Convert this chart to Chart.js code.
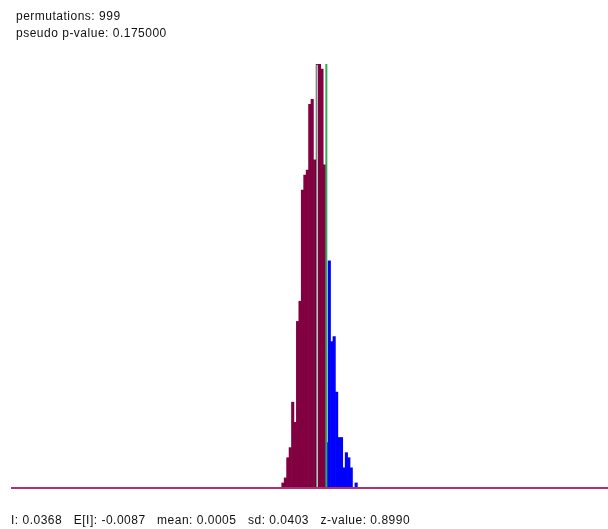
<!DOCTYPE html>
<html>
<head>
<meta charset="utf-8">
<script src="https://cdn.jsdelivr.net/npm/chart.js@4/dist/chart.umd.min.js"></script>
<style>
  html, body { margin: 0; padding: 0; background: #fff; }
  #wrap { position: relative; width: 608px; height: 529px; }
  canvas { position: absolute; left: 0; top: 0; }
  .txt {
    position: absolute;
    font: 12px "Liberation Sans", Arial, sans-serif;
    line-height: 17px;
    color: #111;
    white-space: pre;
    letter-spacing: 0.5px;
  }
</style>
</head>
<body>
<div id="wrap">
  <canvas id="hist" width="608" height="529"></canvas>
  <div class="txt" style="left:16px; top:8px;">permutations: 999<br>pseudo p-value: 0.175000</div>
  <div class="txt" style="left:11px; top:512px;">I: 0.0368   E[I]: -0.0087   mean: 0.0005   sd: 0.0403   z-value: 0.8990</div>
</div>
<script>
// bin centres (Moran's I of each permutation bin)
const binCenters = [-0.1327, -0.1232, -0.1137, -0.1041, -0.0946, -0.0851, -0.0755, -0.0660,
  -0.0565, -0.0470, -0.0374, -0.0279, -0.0184, -0.0088, 0.0007, 0.0102, 0.0198, 0.0293,
  0.0388, 0.0484, 0.0579, 0.0674, 0.0770, 0.0865, 0.0960, 0.1055, 0.1151, 0.1246, 0.1341,
  0.1437, 0.1532];
// permutation counts per bin
const binCounts = [1, 2, 6, 8, 17, 13, 33, 37, 59, 62, 63, 76, 77, 65, 84, 84, 83, 64,
  9, 45, 29, 30, 19, 10, 10, 4, 7, 6, 4, 0, 1];
// which bins are at or beyond the observed I
const binAbove = [0, 0, 0, 0, 0, 0, 0, 0, 0, 0, 0, 0, 0, 0, 0, 0, 0, 0,
  1, 1, 1, 1, 1, 1, 1, 1, 1, 1, 1, 1, 1];
const meanBin = 14;

const observedI = 0.0368;
const xRange = [-1.195, 1.137];
const yMax = 84;

const MAROON = '#800040';
const BLUE = '#0000ff';
const GREEN = '#33aa55';

const fills = binCounts.map((c, i) => i === meanBin ? '#ffffff' : (binAbove[i] ? BLUE : MAROON));
const borders = binCounts.map((c, i) => i === meanBin ? '#222222' : 'rgba(0,0,0,0)');
const borderW = binCounts.map((c, i) => i === meanBin ? 1 : 0);

new Chart(document.getElementById('hist').getContext('2d'), {
  type: 'bar',
  data: {
    datasets: [
      {
        type: 'line',
        data: [{ x: xRange[0], y: 0 }, { x: xRange[1], y: 0 }],
        borderColor: '#b0306f',
        borderWidth: 2,
        pointRadius: 0,
        clip: false,
        order: 0
      },
      {
        type: 'line',
        data: [{ x: observedI, y: 0 }, { x: observedI, y: yMax }],
        borderColor: GREEN,
        borderWidth: 2,
        pointRadius: 0,
        clip: false,
        order: 1
      },
      {
        data: binCenters.map((x, i) => ({ x: x, y: binCounts[i] })),
        backgroundColor: fills,
        borderColor: borders,
        borderWidth: borderW,
        barPercentage: 1,
        categoryPercentage: 1,
        grouped: false,
        order: 2
      }
    ]
  },
  options: {
    responsive: false,
    animation: false,
    layout: { padding: { top: 64, bottom: 41, left: 11, right: 0 } },
    plugins: { legend: { display: false }, tooltip: { enabled: false } },
    scales: {
      x: { type: 'linear', min: xRange[0], max: xRange[1], offset: false, display: false },
      y: { min: 0, max: yMax, display: false }
    }
  }
});
</script>
</body>
</html>
